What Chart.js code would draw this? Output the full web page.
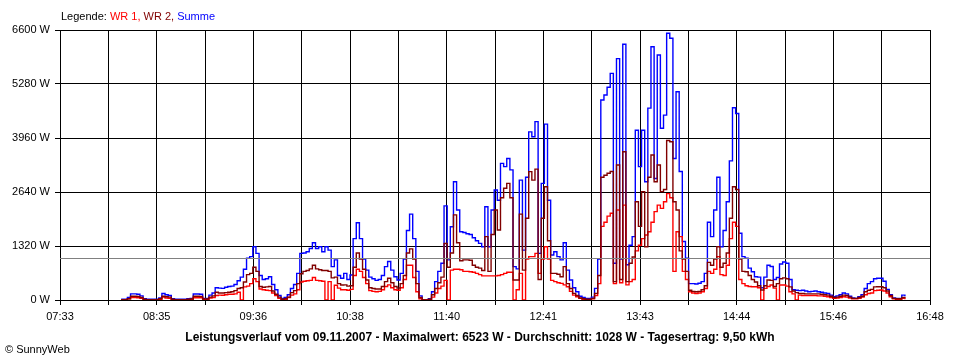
<!DOCTYPE html>
<html>
<head>
<meta charset="utf-8">
<script src="https://cdn.jsdelivr.net/npm/chart.js@4.4.1/dist/chart.umd.min.js"></script>
<style>
  html, body { margin: 0; padding: 0; background: #fff; }
</style>
</head>
<body>
<canvas id="chart" width="960" height="360"></canvas>
<script>
// Messwerte alle 2 Minuten ab 08:12
const startTime = '08:12';
const stepMinutes = 2;

const summe = [
  20, 20, 60, 150, 150, 140, 100, 30, 20, 20,
  20, 20, 50, 160, 130, 110, 30, 20, 20, 20,
  20, 30, 40, 145, 145, 140, 40, 40, 120, 170,
  300, 290, 285, 310, 330, 340, 380, 470, 560, 750,
  1020, 1060, 1300, 1140, 600, 500, 520, 570, 380, 250,
  110, 40, 60, 130, 280, 380, 650, 1140, 1150, 1180,
  1260, 1400, 1260, 1300, 1180, 1300, 1220, 815, 980, 600,
  530, 650, 500, 611, 1500, 1890, 1500, 1000, 730, 560,
  520, 480, 500, 600, 815, 940, 730, 570, 490, 650,
  1000, 1700, 2100, 1500, 700, 100, 0, 0, 30, 200,
  450, 700, 900, 2300, 980, 1790, 2890, 2200, 1670, 1650,
  1620, 1600, 1520, 1450, 1385, 1300, 2280, 1300, 2200, 2690,
  2440, 3340, 3260, 3460, 3180, 815, 760, 2930, 1220, 3000,
  4110, 3990, 4360, 1140, 2850, 4300, 2440, 1100, 1180, 1060,
  980, 1400, 730, 490, 300, 200, 90, 60, 40, 40,
  70, 285, 1000, 4890, 5010, 5200, 5540, 900, 5900, 1000,
  6250, 860, 1340, 1550, 4150, 3260, 4150, 2890, 4690, 6190,
  2970, 5990, 4200, 4520, 6520, 6400, 3460, 5090, 3140, 1430,
  1020, 400, 400, 390, 410, 450, 650, 1900, 1550, 2200,
  3000, 1300, 1700, 2400, 3400, 4700, 4560, 1630, 1060, 1020,
  780, 690, 570, 560, 300, 560, 850, 820, 500, 550,
  880, 930, 900, 500, 250, 240, 230, 240, 220, 200,
  210, 220, 200, 190, 170, 160, 120, 80, 100, 130,
  170, 150, 90, 50, 40, 80, 130, 280, 400, 450,
  520, 530, 530, 460, 260, 130, 50, 40, 40, 120,
  90
];

const wr1 = [
  10, 10, 30, 60, 60, 55, 40, 10, 10, 10,
  10, 10, 20, 70, 50, 40, 10, 10, 10, 10,
  10, 10, 15, 55, 55, 55, 15, 15, 50, 60,
  110, 120, 115, 130, 140, 140, 150, 190, 0, 320,
  340, 400, 520, 450, 270, 250, 240, 230, 170, 110,
  40, 10, 20, 60, 120, 150, 250, 440, 460, 470,
  480, 550, 480, 470, 460, 0, 450, 0, 360, 290,
  250, 250, 240, 260, 600, 750, 700, 550, 400, 230,
  210, 200, 210, 250, 330, 370, 300, 250, 240, 300,
  500, 850, 850, 550, 200, 30, 0, 0, 10, 70,
  170, 280, 340, 480, 0, 730, 750, 750, 740, 700,
  700, 690, 680, 650, 620, 590, 590, 590, 590, 590,
  600, 620, 650, 680, 680, 0, 250, 650, 0, 1000,
  1060, 1060, 1140, 650, 1000, 1300, 1000, 480, 448, 420,
  407, 370, 325, 210, 120, 80, 40, 20, 10, 10,
  30, 110, 400, 1800, 1900, 2050, 2120, 400, 2200, 420,
  2320, 370, 450, 500, 1200, 1340, 1500, 1590, 1670, 1900,
  2160, 2320, 2240, 2400, 2600, 2500, 700, 1670, 1550, 700,
  500, 200, 170, 160, 170, 200, 280, 700, 650, 750,
  1060, 620, 600, 850, 1500, 1900, 1800, 500, 400, 350,
  330, 325, 325, 300, 0, 285, 330, 367, 290, 0,
  367, 367, 340, 200, 150, 0, 120, 110, 110, 110,
  110, 110, 100, 100, 90, 80, 60, 40, 50, 60,
  80, 70, 50, 30, 30, 40, 70, 130, 160, 170,
  230, 240, 245, 220, 170, 80, 30, 20, 20, 40,
  20
];

const wr2 = [
  10, 10, 30, 90, 90, 85, 60, 20, 10, 10,
  10, 10, 30, 90, 80, 70, 20, 10, 10, 10,
  10, 20, 25, 90, 90, 85, 25, 25, 70, 100,
  190, 170, 170, 180, 190, 200, 230, 280, 300, 440,
  620, 650, 800, 700, 330, 310, 320, 330, 220, 140,
  70, 20, 30, 70, 180, 230, 400, 640, 700, 720,
  760, 850, 760, 740, 720, 720, 700, 540, 560, 400,
  367, 370, 340, 350, 800, 1150, 1000, 750, 490, 300,
  280, 270, 270, 330, 450, 530, 420, 330, 290, 400,
  600, 1150, 1250, 1000, 400, 60, 0, 0, 20, 130,
  280, 420, 560, 1380, 800, 1150, 2080, 1400, 960, 980,
  980, 970, 850, 800, 780, 720, 1550, 700, 1600, 2200,
  1710, 2500, 2730, 2850, 2500, 490, 490, 2100, 730, 2000,
  3137, 2930, 3200, 500, 2000, 2770, 1450, 650, 650, 630,
  570, 815, 400, 280, 163, 110, 50, 30, 20, 20,
  40, 163, 600, 3000, 3050, 3100, 3140, 450, 3300, 500,
  3625, 450, 900, 1050, 2400, 1800, 2648, 1300, 3000, 3544,
  2890, 3300, 2650, 2700, 3900, 3870, 2400, 2200, 1200, 1000,
  700, 240, 210, 200, 210, 250, 350, 920, 850, 1000,
  1300, 800, 900, 1150, 2000, 2770, 2700, 1000, 700, 690,
  600, 500, 440, 350, 244, 350, 489, 480, 330, 400,
  520, 540, 520, 320, 220, 180, 160, 160, 150, 150,
  150, 150, 150, 140, 130, 120, 90, 60, 70, 90,
  120, 110, 70, 40, 40, 60, 90, 200, 240, 260,
  320, 325, 325, 300, 220, 110, 40, 30, 30, 60,
  40
];

const xTickLabels = ['07:33', '08:35', '09:36', '10:38', '11:40', '12:41', '13:43', '14:44', '15:46', '16:48'];
const yTicks = [0, 1320, 2640, 3960, 5280, 6600];
const average = 1028;
const titleText = 'Leistungsverlauf vom 09.11.2007 - Maximalwert: 6523 W - Durchschnitt: 1028 W - Tagesertrag: 9,50 kWh';
const legendParts = [
  ['Legende: ', '#000000'],
  ['WR 1, ', '#ff0000'],
  ['WR 2, ', '#800000'],
  ['Summe', '#0000ff']
];

function toMinutes(s) {
  const p = s.split(':');
  return parseInt(p[0], 10) * 60 + parseInt(p[1], 10);
}

const xMin = toMinutes(xTickLabels[0]);
const xMax = toMinutes(xTickLabels[xTickLabels.length - 1]);
const t0 = toMinutes(startTime);

function points(arr) {
  return arr.map((v, i) => ({ x: t0 + i * stepMinutes, y: v }));
}

const fontFamily = '"Liberation Sans", Arial, sans-serif';
Chart.defaults.font.family = fontFamily;
Chart.defaults.font.size = 11;
Chart.defaults.color = '#000';

// Legende, Titel und Copyright
const textPlugin = {
  id: 'texts',
  afterDraw(chart) {
    const ctx = chart.ctx;
    ctx.save();
    ctx.textBaseline = 'alphabetic';
    ctx.font = '11px ' + fontFamily;
    let x = 61;
    legendParts.forEach(p => {
      ctx.fillStyle = p[1];
      ctx.fillText(p[0], x, 20);
      x += ctx.measureText(p[0]).width;
    });
    ctx.fillStyle = '#000';
    ctx.font = 'bold 12px ' + fontFamily;
    ctx.textAlign = 'center';
    ctx.fillText(titleText, 480, 341);
    ctx.font = '11px ' + fontFamily;
    ctx.textAlign = 'left';
    ctx.fillText('\u00A9 SunnyWeb', 5, 353);
    ctx.restore();
  }
};

// Durchschnittslinie
const averagePlugin = {
  id: 'averageLine',
  afterDatasetsDraw(chart) {
    const ctx = chart.ctx;
    const area = chart.chartArea;
    const y = Math.round(chart.scales.y.getPixelForValue(average)) + 0.5;
    ctx.save();
    ctx.strokeStyle = '#808080';
    ctx.lineWidth = 1;
    ctx.beginPath();
    ctx.moveTo(area.left, y);
    ctx.lineTo(area.right, y);
    ctx.stroke();
    ctx.restore();
  }
};

new Chart(document.getElementById('chart').getContext('2d'), {
  type: 'line',
  data: {
    datasets: [
      { label: 'WR 2', data: points(wr2), borderColor: '#800000', order: 1 },
      { label: 'WR 1', data: points(wr1), borderColor: '#ff0000', order: 2 },
      { label: 'Summe', data: points(summe), borderColor: '#0000ff', order: 3 }
    ]
  },
  options: {
    responsive: false,
    animation: false,
    layout: { padding: { top: 30, right: 30, left: 0, bottom: 0 } },
    elements: {
      point: { radius: 0 },
      line: { borderWidth: 1.4, stepped: true, tension: 0, fill: false }
    },
    plugins: {
      legend: { display: false },
      tooltip: { enabled: false }
    },
    scales: {
      x: {
        type: 'linear',
        min: xMin,
        max: xMax,
        afterBuildTicks(scale) {
          const n = (xTickLabels.length - 1) * 2;
          const ticks = [];
          for (let i = 0; i <= n; i++) ticks.push({ value: xMin + (xMax - xMin) * i / n });
          scale.ticks = ticks;
        },
        afterFit(scale) { scale.height = 60; },
        ticks: {
          autoSkip: false,
          maxRotation: 0,
          padding: 5,
          callback: (v, i) => (i % 2 === 0 ? xTickLabels[i / 2] : '')
        },
        grid: { color: '#000', lineWidth: 1, tickLength: 5 },
        border: { color: '#000' }
      },
      y: {
        min: yTicks[0],
        max: yTicks[yTicks.length - 1],
        afterBuildTicks(scale) { scale.ticks = yTicks.map(v => ({ value: v })); },
        afterFit(scale) { scale.width = 60; },
        ticks: { padding: 5, callback: v => v + ' W' },
        grid: { color: '#000', lineWidth: 1, tickLength: 5 },
        border: { color: '#000' }
      }
    }
  },
  plugins: [averagePlugin, textPlugin]
});
</script>
</body>
</html>
